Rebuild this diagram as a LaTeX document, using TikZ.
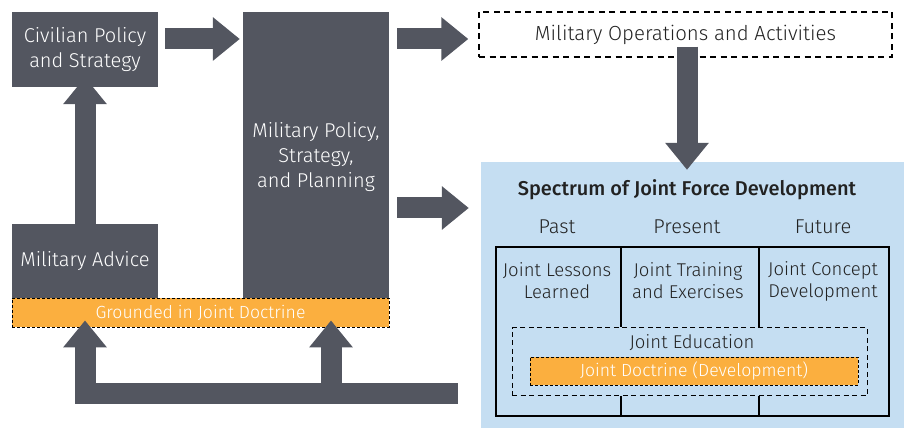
\documentclass[tikz,border=0pt]{standalone}
\usepackage{fontspec}
\setmainfont{Fira Sans}[UprightFont={* Light},BoldFont={* Medium}]
\usetikzlibrary{arrows.meta,calc}
\definecolor{dgray}{HTML}{535660}
\definecolor{dorange}{HTML}{FBAF3F}
\definecolor{lblue}{HTML}{C5DEF2}
\definecolor{txt}{HTML}{222222}
\tikzset{
  darkbox/.style={fill=dgray,text=white,align=center,inner sep=0pt,font=\fontsize{20}{24.8}\selectfont},
  orangebox/.style={fill=dorange,draw=black,dash pattern=on 3pt off 2pt,line width=0.9pt,text=white,inner sep=0pt,font=\fontsize{17.6}{20}\selectfont},
  dashbox/.style={draw=black,dash pattern=on 6pt off 4.5pt,line width=1.4pt,inner sep=0pt,text=txt},
  bigarrow/.style={draw=dgray,line width=21pt,line cap=butt,line join=miter,-{Triangle[length=27pt,width=42pt]}},
  celltext/.style={text=txt,align=center,font=\fontsize{18.5}{22}\selectfont},
  headtext/.style={text=txt,font=\fontsize{20}{22}\selectfont},
}
\begin{document}
\begin{tikzpicture}[x=1pt,y=-1pt]
\useasboundingbox (0,0) rectangle (911,430);
% blue background
\node[fill=lblue,minimum width=423pt,minimum height=266pt,inner sep=0pt] (blue) at (692.5,295) {};
% boxes
\node[darkbox,minimum width=146pt,minimum height=75pt] (civ) at (85,49.5) {Civilian Policy\\and Strategy};
\node[darkbox,minimum width=146pt,minimum height=74pt] (adv) at (85,261) {Military Advice};
\node[darkbox,minimum width=146pt,minimum height=286pt] (mpsp) at (316,155) {};
\node[darkbox] (mpsptext) at (316,157) {Military Policy,\\Strategy,\\and Planning};
\node[orangebox,minimum width=377pt,minimum height=29pt] (ground) at (200.5,312.5) {Grounded in Joint Doctrine};
\node[dashbox,minimum width=413pt,minimum height=45pt,font=\fontsize{20.4}{22}\selectfont] (ops) at (685.5,34.5) {Military Operations and Activities};
% spectrum
\node[font=\bfseries\fontsize{20}{22}\selectfont,text=txt] (spec) at (687,190) {Spectrum of Joint Force Development};
\node[headtext] (past) at (557,227) {Past};
\node[headtext] (present) at (687,227) {Present};
\node[headtext] (future) at (823,227) {Future};
\node[draw=black,line width=1.6pt,minimum width=393pt,minimum height=169pt,inner sep=0pt] (inner) at (692.5,331.5) {};
\node[draw=black,dash pattern=on 5pt off 3.5pt,line width=1pt,minimum width=355pt,minimum height=68pt,inner sep=0pt] (edu) at (689.5,362) {};
\node[celltext] (edut) at (692,343) {Joint Education};
\node[orangebox,minimum width=328pt,minimum height=28pt] (jdd) at (694,371) {Joint Doctrine (Development)};
\node[celltext] (jll) at (557,281) {Joint Lessons\\Learned};
\node[celltext] (jte) at (688,281) {Joint Training\\and Exercises};
\node[celltext] (jcd) at (823,281) {Joint Concept\\Development};
% dividers
\draw[line width=1.2pt] (inner.north -| 621,0) -- (621,0 |- edu.north);
\draw[line width=1.2pt] (inner.north -| 759,0) -- (759,0 |- edu.north);
\draw[line width=1.2pt] (621,0 |- edu.south) -- (inner.south -| 621,0);
\draw[line width=1.2pt] (759,0 |- edu.south) -- (inner.south -| 759,0);
% arrows
\draw[bigarrow] ([xshift=7pt]civ.east |- 0,39) -- ([xshift=-3pt]mpsp.west |- 0,39);
\draw[bigarrow] ([xshift=8pt]mpsp.east |- 0,39) -- ([xshift=-10pt]ops.west |- 0,39);
\draw[bigarrow] ([xshift=8pt]mpsp.east |- 0,208) -- ([xshift=-12pt]blue.west |- 0,208);
\draw[bigarrow] ([yshift=-13pt]adv.north) -- ([yshift=10pt]civ.south);
\draw[bigarrow] ([yshift=11pt]ops.south -| 687,0) -- ([yshift=-8pt]blue.north -| 687,0);
\coordinate (bend) at (85,394);
\draw[bigarrow] ([xshift=-23pt]blue.west |- 0,394) -| ([yshift=7pt]ground.south -| bend);
\draw[bigarrow] (331,394) -- ([yshift=7pt]ground.south -| 331,0);
\end{tikzpicture}
\end{document}
